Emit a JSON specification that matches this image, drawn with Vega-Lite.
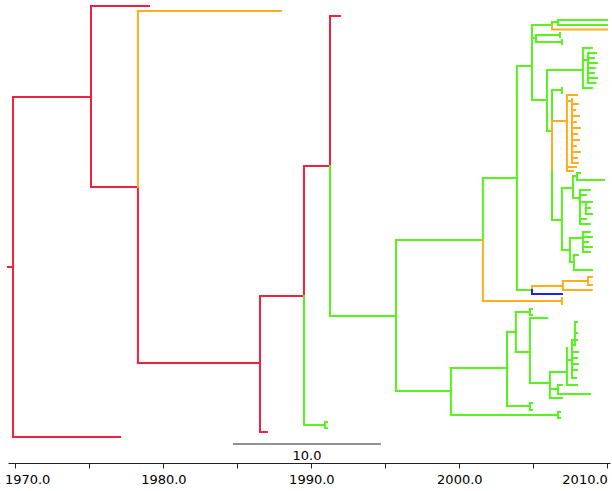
{
  "$schema": "https://vega.github.io/schema/vega-lite/v6.json",
  "width": 602,
  "height": 463,
  "autosize": "none",
  "padding": {"left": 8, "top": 0, "right": 2, "bottom": 28},
  "config": {"view": {"stroke": null}, "font": "DejaVu Sans"},
  "datasets": {
    "branches": [
      {"x": 1969.5, "x2": 1969.84, "y": 267, "y2": 267, "c": "r"},
      {"x": 1969.84, "x2": 1969.84, "y": 97, "y2": 437, "c": "r"},
      {"x": 1969.84, "x2": 1977.07, "y": 437, "y2": 437, "c": "r"},
      {"x": 1969.84, "x2": 1975.11, "y": 97, "y2": 97, "c": "r"},
      {"x": 1975.11, "x2": 1975.11, "y": 6, "y2": 187, "c": "r"},
      {"x": 1975.11, "x2": 1979.03, "y": 6, "y2": 6, "c": "r"},
      {"x": 1975.11, "x2": 1978.28, "y": 187, "y2": 187, "c": "r"},
      {"x": 1978.28, "x2": 1978.28, "y": 187, "y2": 363, "c": "r"},
      {"x": 1978.28, "x2": 1978.28, "y": 11, "y2": 187, "c": "o"},
      {"x": 1978.28, "x2": 1987.95, "y": 11, "y2": 11, "c": "o"},
      {"x": 1978.28, "x2": 1986.53, "y": 363, "y2": 363, "c": "r"},
      {"x": 1986.53, "x2": 1986.53, "y": 296, "y2": 432, "c": "r"},
      {"x": 1986.53, "x2": 1987.0, "y": 432, "y2": 432, "c": "r"},
      {"x": 1986.53, "x2": 1989.5, "y": 296, "y2": 296, "c": "r"},
      {"x": 1989.5, "x2": 1989.5, "y": 166, "y2": 296, "c": "r"},
      {"x": 1989.5, "x2": 1989.5, "y": 296, "y2": 425, "c": "g"},
      {"x": 1989.5, "x2": 1990.92, "y": 425, "y2": 425, "c": "g"},
      {"x": 1990.92, "x2": 1990.92, "y": 422, "y2": 428, "c": "g"},
      {"x": 1990.92, "x2": 1991.05, "y": 422, "y2": 422, "c": "g"},
      {"x": 1990.92, "x2": 1991.05, "y": 428, "y2": 428, "c": "g"},
      {"x": 1989.5, "x2": 1991.26, "y": 166, "y2": 166, "c": "r"},
      {"x": 1991.26, "x2": 1991.26, "y": 16, "y2": 166, "c": "r"},
      {"x": 1991.26, "x2": 1991.26, "y": 166, "y2": 316, "c": "g"},
      {"x": 1991.26, "x2": 1991.93, "y": 16, "y2": 16, "c": "r"},
      {"x": 1991.26, "x2": 1995.72, "y": 316, "y2": 316, "c": "g"},
      {"x": 1995.72, "x2": 1995.72, "y": 240, "y2": 391, "c": "g"},
      {"x": 1995.72, "x2": 1999.43, "y": 391, "y2": 391, "c": "g"},
      {"x": 1995.72, "x2": 2001.59, "y": 240, "y2": 240, "c": "g"},
      {"x": 2001.59, "x2": 2001.59, "y": 178, "y2": 240, "c": "g"},
      {"x": 2001.59, "x2": 2001.59, "y": 240, "y2": 301, "c": "o"},
      {"x": 2001.59, "x2": 2006.93, "y": 301, "y2": 301, "c": "o"},
      {"x": 2006.93, "x2": 2006.93, "y": 298, "y2": 304, "c": "o"},
      {"x": 2001.59, "x2": 2003.89, "y": 178, "y2": 178, "c": "g"},
      {"x": 2003.89, "x2": 2003.89, "y": 66, "y2": 290, "c": "g"},
      {"x": 2003.89, "x2": 2004.91, "y": 66, "y2": 66, "c": "g"},
      {"x": 2003.89, "x2": 2004.91, "y": 290, "y2": 290, "c": "g"},
      {"x": 2004.91, "x2": 2004.91, "y": 286, "y2": 290, "c": "o"},
      {"x": 2004.91, "x2": 2004.91, "y": 290, "y2": 294, "c": "b"},
      {"x": 2004.91, "x2": 2007.0, "y": 286, "y2": 286, "c": "o"},
      {"x": 2004.91, "x2": 2006.93, "y": 294, "y2": 294, "c": "b"},
      {"x": 2007.0, "x2": 2007.0, "y": 281, "y2": 290, "c": "o"},
      {"x": 2007.0, "x2": 2008.94, "y": 290, "y2": 290, "c": "o"},
      {"x": 2007.0, "x2": 2008.69, "y": 281, "y2": 281, "c": "o"},
      {"x": 2008.69, "x2": 2008.69, "y": 277, "y2": 285, "c": "o"},
      {"x": 2008.69, "x2": 2008.96, "y": 277, "y2": 277, "c": "o"},
      {"x": 2008.69, "x2": 2008.96, "y": 285, "y2": 285, "c": "o"},

      {"x": 2004.91, "x2": 2004.91, "y": 25, "y2": 100, "c": "g"},
      {"x": 2004.91, "x2": 2006.26, "y": 25, "y2": 25, "c": "g"},
      {"x": 2006.26, "x2": 2006.26, "y": 23, "y2": 25, "c": "g"},
      {"x": 2006.26, "x2": 2006.26, "y": 25, "y2": 29, "c": "o"},
      {"x": 2006.26, "x2": 2006.66, "y": 22, "y2": 22, "c": "g"},
      {"x": 2006.66, "x2": 2006.66, "y": 20, "y2": 25, "c": "g"},
      {"x": 2006.66, "x2": 2009.97, "y": 20, "y2": 20, "c": "g"},
      {"x": 2006.66, "x2": 2009.97, "y": 25, "y2": 25, "c": "g"},
      {"x": 2006.26, "x2": 2009.97, "y": 29.5, "y2": 29.5, "c": "o"},
      {"x": 2004.91, "x2": 2005.18, "y": 38, "y2": 38, "c": "g"},
      {"x": 2005.18, "x2": 2005.18, "y": 35, "y2": 42, "c": "g"},
      {"x": 2005.18, "x2": 2006.8, "y": 35, "y2": 35, "c": "g"},
      {"x": 2005.18, "x2": 2006.93, "y": 42, "y2": 42, "c": "g"},
      {"x": 2006.8, "x2": 2006.8, "y": 33, "y2": 37, "c": "g"},
      {"x": 2006.93, "x2": 2006.93, "y": 40, "y2": 44, "c": "g"},
      {"x": 2004.91, "x2": 2005.92, "y": 100, "y2": 100, "c": "g"},
      {"x": 2005.92, "x2": 2005.92, "y": 70, "y2": 131, "c": "g"},
      {"x": 2005.92, "x2": 2008.35, "y": 70, "y2": 70, "c": "g"},
      {"x": 2008.35, "x2": 2008.35, "y": 48, "y2": 88, "c": "g"},
      {"x": 2008.35, "x2": 2008.96, "y": 48, "y2": 48, "c": "g"},
      {"x": 2008.35, "x2": 2008.96, "y": 88, "y2": 88, "c": "g"},
      {"x": 2008.69, "x2": 2008.69, "y": 53, "y2": 83, "c": "g"},
      {"x": 2008.35, "x2": 2008.69, "y": 60, "y2": 60, "c": "g"},
      {"x": 2008.69, "x2": 2009.23, "y": 53, "y2": 53, "c": "g"},
      {"x": 2008.69, "x2": 2009.1, "y": 58, "y2": 58, "c": "g"},
      {"x": 2008.69, "x2": 2009.3, "y": 63, "y2": 63, "c": "g"},
      {"x": 2008.69, "x2": 2009.15, "y": 68, "y2": 68, "c": "g"},
      {"x": 2008.69, "x2": 2009.1, "y": 73, "y2": 73, "c": "g"},
      {"x": 2008.69, "x2": 2009.3, "y": 78, "y2": 78, "c": "g"},
      {"x": 2008.69, "x2": 2009.2, "y": 83, "y2": 83, "c": "g"},

      {"x": 2005.92, "x2": 2006.26, "y": 131, "y2": 131, "c": "g"},
      {"x": 2006.26, "x2": 2006.26, "y": 90, "y2": 121, "c": "g"},
      {"x": 2006.26, "x2": 2006.26, "y": 121, "y2": 171, "c": "o"},
      {"x": 2006.26, "x2": 2006.26, "y": 171, "y2": 220, "c": "g"},
      {"x": 2006.26, "x2": 2006.93, "y": 90, "y2": 90, "c": "g"},
      {"x": 2006.93, "x2": 2006.93, "y": 88, "y2": 93, "c": "g"},
      {"x": 2006.26, "x2": 2007.27, "y": 121, "y2": 121, "c": "o"},
      {"x": 2007.27, "x2": 2007.27, "y": 95, "y2": 171, "c": "o"},
      {"x": 2007.27, "x2": 2007.95, "y": 95, "y2": 95, "c": "o"},
      {"x": 2007.27, "x2": 2007.61, "y": 101, "y2": 101, "c": "o"},
      {"x": 2007.61, "x2": 2007.61, "y": 99, "y2": 163, "c": "o"},
      {"x": 2007.61, "x2": 2008.01, "y": 104, "y2": 104, "c": "o"},
      {"x": 2007.61, "x2": 2007.81, "y": 110, "y2": 110, "c": "o"},
      {"x": 2007.61, "x2": 2008.08, "y": 116, "y2": 116, "c": "o"},
      {"x": 2007.61, "x2": 2007.88, "y": 122, "y2": 122, "c": "o"},
      {"x": 2007.61, "x2": 2008.15, "y": 128, "y2": 128, "c": "o"},
      {"x": 2007.61, "x2": 2007.95, "y": 134, "y2": 134, "c": "o"},
      {"x": 2007.61, "x2": 2008.08, "y": 140, "y2": 140, "c": "o"},
      {"x": 2007.61, "x2": 2007.88, "y": 146, "y2": 146, "c": "o"},
      {"x": 2007.61, "x2": 2008.15, "y": 152, "y2": 152, "c": "o"},
      {"x": 2007.61, "x2": 2007.95, "y": 158, "y2": 158, "c": "o"},
      {"x": 2007.61, "x2": 2008.01, "y": 163, "y2": 163, "c": "o"},
      {"x": 2007.27, "x2": 2007.88, "y": 167, "y2": 167, "c": "o"},
      {"x": 2007.27, "x2": 2007.68, "y": 171, "y2": 171, "c": "o"},

      {"x": 2006.26, "x2": 2006.93, "y": 220, "y2": 220, "c": "g"},
      {"x": 2006.93, "x2": 2006.93, "y": 188, "y2": 250, "c": "g"},
      {"x": 2006.93, "x2": 2007.68, "y": 188, "y2": 188, "c": "g"},
      {"x": 2007.68, "x2": 2007.68, "y": 176, "y2": 198, "c": "g"},
      {"x": 2007.68, "x2": 2007.95, "y": 176, "y2": 176, "c": "g"},
      {"x": 2007.95, "x2": 2007.95, "y": 173, "y2": 180, "c": "g"},
      {"x": 2007.95, "x2": 2008.15, "y": 173, "y2": 173, "c": "g"},
      {"x": 2007.95, "x2": 2009.77, "y": 180, "y2": 180, "c": "g"},
      {"x": 2007.68, "x2": 2008.15, "y": 198, "y2": 198, "c": "g"},
      {"x": 2008.15, "x2": 2008.15, "y": 190, "y2": 224, "c": "g"},
      {"x": 2008.15, "x2": 2008.82, "y": 190, "y2": 190, "c": "g"},
      {"x": 2008.15, "x2": 2008.55, "y": 195, "y2": 195, "c": "g"},
      {"x": 2008.15, "x2": 2008.96, "y": 202, "y2": 202, "c": "g"},
      {"x": 2008.55, "x2": 2008.55, "y": 202, "y2": 214, "c": "g"},
      {"x": 2008.55, "x2": 2008.82, "y": 208, "y2": 208, "c": "g"},
      {"x": 2008.55, "x2": 2008.96, "y": 214, "y2": 214, "c": "g"},
      {"x": 2008.15, "x2": 2008.55, "y": 219, "y2": 219, "c": "g"},
      {"x": 2008.15, "x2": 2008.82, "y": 224, "y2": 224, "c": "g"},

      {"x": 2006.93, "x2": 2007.47, "y": 250, "y2": 250, "c": "g"},
      {"x": 2007.47, "x2": 2007.47, "y": 238, "y2": 262, "c": "g"},
      {"x": 2007.47, "x2": 2008.35, "y": 238, "y2": 238, "c": "g"},
      {"x": 2008.35, "x2": 2008.35, "y": 232, "y2": 252, "c": "g"},
      {"x": 2008.35, "x2": 2008.82, "y": 232, "y2": 232, "c": "g"},
      {"x": 2008.35, "x2": 2008.96, "y": 237, "y2": 237, "c": "g"},
      {"x": 2008.35, "x2": 2008.69, "y": 242, "y2": 242, "c": "g"},
      {"x": 2008.35, "x2": 2008.96, "y": 247, "y2": 247, "c": "g"},
      {"x": 2008.35, "x2": 2008.82, "y": 252, "y2": 252, "c": "g"},
      {"x": 2007.47, "x2": 2007.74, "y": 262, "y2": 262, "c": "g"},
      {"x": 2007.74, "x2": 2007.74, "y": 255, "y2": 270, "c": "g"},
      {"x": 2007.74, "x2": 2008.01, "y": 255, "y2": 255, "c": "g"},
      {"x": 2007.74, "x2": 2008.96, "y": 270, "y2": 270, "c": "g"},

      {"x": 1999.43, "x2": 1999.43, "y": 368, "y2": 415, "c": "g"},
      {"x": 1999.43, "x2": 2006.66, "y": 415, "y2": 415, "c": "g"},
      {"x": 2006.66, "x2": 2006.66, "y": 412, "y2": 418, "c": "g"},
      {"x": 2006.66, "x2": 2006.8, "y": 412, "y2": 412, "c": "g"},
      {"x": 2006.66, "x2": 2006.8, "y": 418, "y2": 418, "c": "g"},
      {"x": 1999.43, "x2": 2003.22, "y": 368, "y2": 368, "c": "g"},
      {"x": 2003.22, "x2": 2003.22, "y": 332, "y2": 406, "c": "g"},
      {"x": 2003.22, "x2": 2004.77, "y": 406, "y2": 406, "c": "g"},
      {"x": 2004.77, "x2": 2004.77, "y": 403, "y2": 410, "c": "g"},
      {"x": 2004.77, "x2": 2004.91, "y": 403, "y2": 403, "c": "g"},
      {"x": 2004.77, "x2": 2004.91, "y": 410, "y2": 410, "c": "g"},
      {"x": 2003.22, "x2": 2003.82, "y": 332, "y2": 332, "c": "g"},
      {"x": 2003.82, "x2": 2003.82, "y": 312, "y2": 352, "c": "g"},
      {"x": 2003.82, "x2": 2004.77, "y": 312, "y2": 312, "c": "g"},
      {"x": 2004.77, "x2": 2004.77, "y": 309, "y2": 315, "c": "g"},
      {"x": 2004.77, "x2": 2004.91, "y": 309, "y2": 309, "c": "g"},
      {"x": 2004.77, "x2": 2004.91, "y": 315, "y2": 315, "c": "g"},
      {"x": 2003.82, "x2": 2004.77, "y": 352, "y2": 352, "c": "g"},
      {"x": 2004.77, "x2": 2004.77, "y": 318, "y2": 383, "c": "g"},
      {"x": 2004.77, "x2": 2005.92, "y": 318, "y2": 318, "c": "g"},
      {"x": 2004.77, "x2": 2006.12, "y": 383, "y2": 383, "c": "g"},
      {"x": 2006.12, "x2": 2006.12, "y": 372, "y2": 398, "c": "g"},
      {"x": 2006.12, "x2": 2007.27, "y": 372, "y2": 372, "c": "g"},
      {"x": 2007.27, "x2": 2007.27, "y": 348, "y2": 385, "c": "g"},
      {"x": 2007.27, "x2": 2007.61, "y": 360, "y2": 360, "c": "g"},
      {"x": 2007.61, "x2": 2007.61, "y": 340, "y2": 378, "c": "g"},
      {"x": 2007.61, "x2": 2007.81, "y": 345, "y2": 345, "c": "g"},
      {"x": 2007.81, "x2": 2007.81, "y": 322, "y2": 345, "c": "g"},
      {"x": 2007.81, "x2": 2007.95, "y": 322, "y2": 322, "c": "g"},
      {"x": 2007.81, "x2": 2007.95, "y": 333, "y2": 333, "c": "g"},
      {"x": 2007.61, "x2": 2007.95, "y": 340, "y2": 340, "c": "g"},
      {"x": 2007.61, "x2": 2008.01, "y": 352, "y2": 352, "c": "g"},
      {"x": 2007.61, "x2": 2007.95, "y": 358, "y2": 358, "c": "g"},
      {"x": 2007.61, "x2": 2008.01, "y": 364, "y2": 364, "c": "g"},
      {"x": 2007.61, "x2": 2007.95, "y": 370, "y2": 370, "c": "g"},
      {"x": 2007.61, "x2": 2007.88, "y": 378, "y2": 378, "c": "g"},
      {"x": 2007.27, "x2": 2007.95, "y": 385, "y2": 385, "c": "g"},
      {"x": 2006.12, "x2": 2006.93, "y": 398, "y2": 398, "c": "g"},
      {"x": 2006.12, "x2": 2006.66, "y": 389, "y2": 389, "c": "g"},
      {"x": 2006.66, "x2": 2006.66, "y": 385, "y2": 394, "c": "g"},
      {"x": 2006.66, "x2": 2006.93, "y": 385, "y2": 385, "c": "g"},
      {"x": 2006.66, "x2": 2008.82, "y": 394, "y2": 394, "c": "g"}
    ],
    "scalebar": [
      {"x": 1984.7, "x2": 1994.7, "y": 444, "label": "10.0", "ty": 455.5, "tx": 1989.7}
    ]
  },
  "layer": [
    {
      "data": {"name": "branches"},
      "mark": {"type": "rule", "strokeWidth": 2, "strokeCap": "square"},
      "encoding": {
        "x": {
          "field": "x", "type": "quantitative",
          "scale": {"domain": [1969.5, 2010.18], "nice": false, "zero": false},
          "axis": {
            "values": [1970, 1975, 1980, 1985, 1990, 1995, 2000, 2005, 2010],
            "labelExpr": "datum.value % 10 == 0 ? format(datum.value, '.1f') : ''",
            "title": null, "grid": false,
            "tickSize": 5, "labelPadding": 5,
            "labelFontSize": 13, "labelFont": "DejaVu Sans", "labelColor": "#000",
            "labelAlign": {"expr": "datum.value == 2010 ? 'right' : (datum.value == 1970 ? 'left' : 'center')"},
            "labelOffset": {"expr": "datum.value == 1970 ? -11 : 0"},
            "domainColor": "#222", "tickColor": "#222",
            "labelOverlap": false, "labelFlush": false, "labelBound": false
          }
        },
        "x2": {"field": "x2"},
        "y": {"field": "y", "type": "quantitative", "scale": {"domain": [0, 463], "reverse": true, "nice": false, "zero": false}, "axis": null},
        "y2": {"field": "y2"},
        "color": {
          "field": "c", "type": "nominal",
          "scale": {"domain": ["r", "o", "g", "b"], "range": ["#f0203f", "#ffad1f", "#58f21e", "#2222ee"]},
          "legend": null
        }
      }
    },
    {
      "data": {"name": "scalebar"},
      "mark": {"type": "rule", "strokeWidth": 1, "color": "#222"},
      "encoding": {
        "x": {"field": "x", "type": "quantitative"},
        "x2": {"field": "x2"},
        "y": {"field": "y", "type": "quantitative"}
      }
    },
    {
      "data": {"name": "scalebar"},
      "mark": {"type": "text", "fontSize": 13, "font": "DejaVu Sans", "color": "#000", "baseline": "middle", "align": "center"},
      "encoding": {
        "x": {"field": "tx", "type": "quantitative"},
        "y": {"field": "ty", "type": "quantitative"},
        "text": {"field": "label"}
      }
    }
  ]
}
